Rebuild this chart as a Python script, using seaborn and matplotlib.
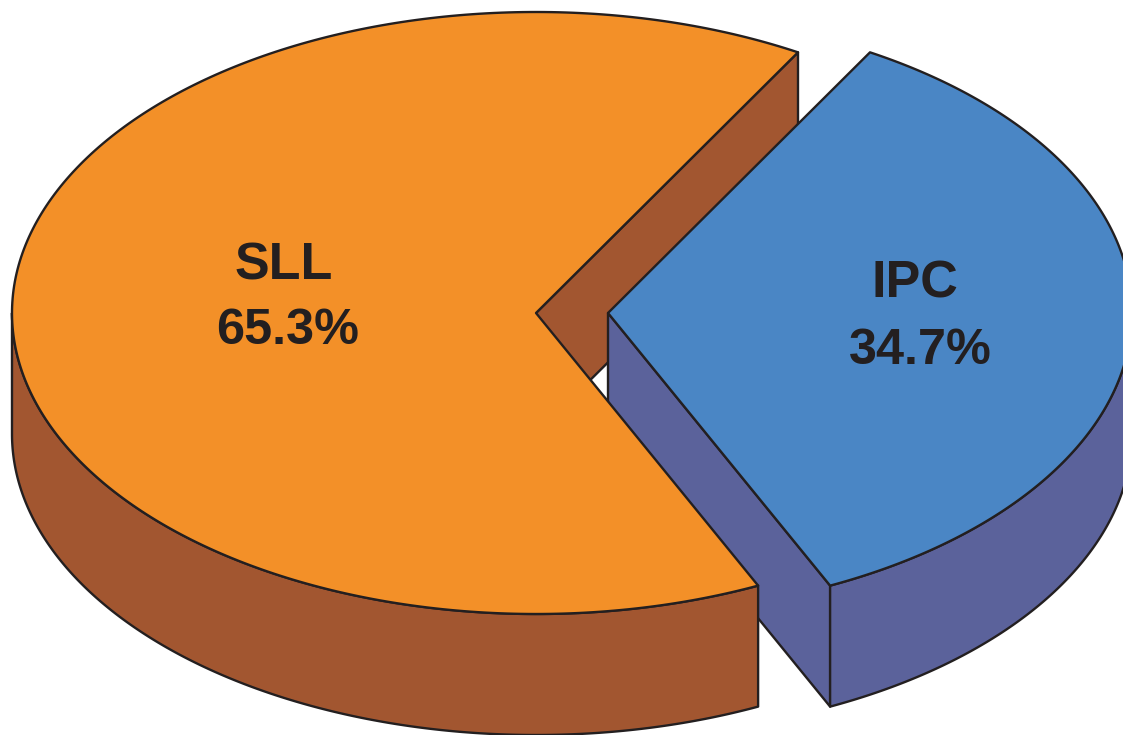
import matplotlib.pyplot as plt
import numpy as np
import seaborn as sns

labels = ["SLL", "IPC"]
shares = [65.3, 34.7]
colors_top = ["#f39028", "#4a86c5"]
colors_side = ["#a25630", "#5b629b"]

START_ANGLE = 60  # orange slice starts here, going counter clockwise
RX, RY = 524, 301
DEPTH = 121
CENTERS = [(536, 313), (608, 313)]
NAME_POS = [(283.5, 266), (914.5, 284)]
VALUE_POS = [(288, 331), (920, 351)]
EDGE = "#231f20"
LW = 1.7


def arc(center, a0, a1, drop=0):
    t = np.radians(np.linspace(a0, a1, 300))
    x = center[0] + RX * np.cos(t)
    y = center[1] - RY * np.sin(t) + drop
    return x, y


def shape(ax, x, y, color, z):
    ax.fill(x, y, facecolor=color, edgecolor=EDGE, linewidth=LW, joinstyle="round", zorder=z)


def cut_wall(ax, center, angle, color, z):
    t = np.radians(angle)
    ex = center[0] + RX * np.cos(t)
    ey = center[1] - RY * np.sin(t)
    cx, cy = center
    shape(ax, [cx, ex, ex, cx], [cy, ey, ey + DEPTH, cy + DEPTH], color, z)


def outer_wall(ax, center, a0, a1, color, z):
    x0, y0 = arc(center, a0, a1)
    x1, y1 = arc(center, a1, a0, DEPTH)
    shape(ax, np.r_[x0, x1], np.r_[y0, y1], color, z)


def slice_top(ax, center, a0, a1, color, z):
    x, y = arc(center, a0, a1)
    shape(ax, np.r_[center[0], x], np.r_[center[1], y], color, z)


sns.set_theme(style="white")
plt.rcParams["font.family"] = ["Liberation Sans", "DejaVu Sans"]

fig = plt.figure(figsize=(11.23, 7.35), dpi=100)
ax = fig.add_axes([0, 0, 1, 1])

sweep = [s / sum(shares) * 360 for s in shares]
o0, o1 = START_ANGLE, START_ANGLE + sweep[0]
b0, b1 = o1, o1 + sweep[1]

# orange piece
cut_wall(ax, CENTERS[0], o0, colors_side[0], 1)
outer_wall(ax, CENTERS[0], 180, o1, colors_side[0], 2)
slice_top(ax, CENTERS[0], o0, o1, colors_top[0], 3)

# blue piece, sits in front of the orange cut but behind its front wall
cut_wall(ax, CENTERS[1], b0, colors_side[1], 1.5)
outer_wall(ax, CENTERS[1], b0, 360, colors_side[1], 1.6)
slice_top(ax, CENTERS[1], b0, b1, colors_top[1], 1.7)

for i, name in enumerate(labels):
    ax.text(*NAME_POS[i], name, ha="center", va="center", fontsize=37.5,
            fontweight="bold", color=EDGE, zorder=5)
    ax.text(*VALUE_POS[i], f"{shares[i]}%", ha="center", va="center", fontsize=36.3,
            fontweight="bold", color=EDGE, zorder=5)

ax.set_xlim(0, 1123)
ax.set_ylim(735, 0)
ax.axis("off")
fig.savefig("out.png", dpi=100)
